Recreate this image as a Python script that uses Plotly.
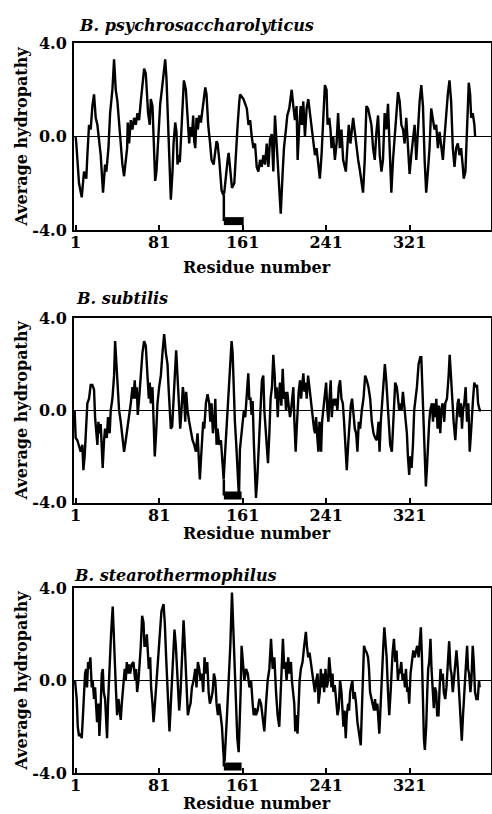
import plotly.graph_objects as go

# ---------------- data ----------------
titles = ["B. psychrosaccharolyticus", "B. subtilis", "B. stearothermophilus"]
x_tickvals = [1, 81, 161, 241, 321]
x_ticktext = ["1", "81", "161", "241", "321"]
y_tickvals = [-4, 0, 4]
y_ticktext = ["-4.0", "0.0", "4.0"]

psy_res = [1, 1.6, 4.2, 6.8, 9.0, 11.2, 12.2, 13.8, 15.4, 17.0, 18.6, 20.2, 21.8, 23.4, 25.0, 27.2, 29.2, 30.4,
           32.4, 34.0, 36.2, 37.8, 39.4, 41.0, 42.6, 44.5, 45.8, 47.4, 49.0, 50.3, 50.9, 52.2, 53.8, 55.4, 57.0,
           58.6, 60.2, 61.8, 63.4, 65.0, 66.6, 68.2, 70.4, 72.0, 73.0, 74.6, 75.6, 76.5, 77.2, 78.4, 79.4, 80.4,
           82.0, 83.6, 85.8, 86.8, 88.0, 89.3, 90.6, 92.2, 93.8, 94.8, 96.4, 97.6, 98.6, 99.6, 100.8, 102.1,
           103.4, 104.7, 106.6, 108.2, 108.8, 109.8, 110.8, 112.4, 113.6, 114.6, 115.6, 116.8, 118.1, 119.4,
           121.0, 123.2, 125.2, 126.4, 128.0, 129.6, 131.2, 133.2, 134.8, 136.0, 137.0, 138.6, 140.8, 142.4,
           143.4, 145.0, 146.6, 147.6, 148.8, 150.8, 153.0, 154.6, 156.2, 157.8,
           158.6, 161.8, 165.0, 166.6, 168.2, 169.7, 171.3, 172.9, 174.5, 176.1, 177.7, 179.3, 180.9, 182.5,
           184.1, 185.7, 187.3, 188.9, 190.4, 192.0, 193.6, 195.2, 197.5, 199.4, 200.6, 202.5, 203.8, 205.7,
           208.0, 209.6, 211.1, 212.7, 213.7, 215.3, 216.6, 217.8, 219.1, 220.7, 222.3, 223.9, 225.5, 227.1,
           228.7, 230.3, 231.8, 233.4, 235.0, 236.6, 238.2, 239.8, 241.4, 242.4, 244.0, 245.2, 246.2, 247.8,
           249.4, 251.0, 252.5, 254.1, 255.7, 257.3, 259.9, 261.1, 262.7, 264.3, 265.6, 266.9, 268.5, 270.1,
           271.7, 273.2, 274.8, 276.4, 278.0, 279.6, 281.2, 282.8, 284.4, 286.0, 287.6, 289.2, 290.8, 292.4,
           294.0, 295.5, 297.1, 298.7, 300.3, 301.9, 303.5, 305.1, 306.7, 308.3, 309.9, 311.5, 313.1, 314.7,
           316.2, 317.8, 319.4, 321.0, 322.6, 324.2, 325.8, 327.4, 329.0, 330.6, 332.2, 333.8, 335.4, 336.9,
           338.5, 340.1, 341.7, 343.3, 344.9, 346.5, 348.1, 349.7, 351.3, 352.9, 354.5, 356.1, 357.6, 359.2,
           360.8, 362.4, 364.0, 365.6, 367.2, 368.8, 370.4, 372.0, 372.9, 374.5, 375.8, 376.8, 377.7, 379.0,
           380.0, 381.5, 383.1, 383.8]
psy_val = [0.0, -0.3, -2.0, -2.6, -1.5, -1.8, -0.8, 0.5, 0.3, 1.3, 1.8, 0.8, 0.5, -0.3, -0.8, -2.4, -1.2, -1.5,
           -0.5, 1.0, 2.0, 3.3, 2.0, 1.5, 0.5, -0.5, -1.2, -1.7, -1.0, -0.5, 0.6, -0.3, 0.7, 0.3, 0.8,
           0.5, 1.0, 0.7, 1.5, 2.3, 2.9, 2.7, 1.0, 0.5, 1.6, 1.3, 0.3, -1.0, -1.9, -1.5, -0.5, 0.5,
           1.4, 2.0, 2.8, 3.3, 2.5, 1.0, -0.5, -2.7, -1.5, -0.3, 0.6, 0.2, -1.2, -0.8, -1.1, 0.3,
           1.2, 2.4, 2.0, 1.0, 0.5, -0.3, 0.4, 0.0, 0.9, -0.2, -0.5, 0.8, 0.3, 0.9,
           0.6, 1.3, 2.1, 1.8, 0.5, -0.2, -1.0, -1.2, -0.7, -0.2, -0.3, -1.0, -2.3, -2.5,
           -2.4, -1.5, -1.0, -0.7, -1.2, -2.2, -2.0, -0.5, 0.5, 1.5,
           1.8, 1.6, 1.2, 0.5, 0.7, 0.0, -0.5, -0.3, -1.3, -1.5, -1.0, -1.3, -0.8, -1.2,
           -0.3, -1.3, -0.1, 0.1, -1.5, 0.9, -0.5, -1.5, -3.3, -1.5, -0.5, 0.3, 0.9, 1.2,
           2.0, 1.3, 0.7, 1.3, -1.0, 0.5, 1.3, 0.5, 1.5, 0.0, 1.2, 1.6, 1.0, 0.5,
           -0.3, -0.8, -0.5, -1.3, -1.8, -0.8, 0.8, 2.2, 2.0, 0.5, 0.8, 0.3, -0.5, 0.0,
           -1.0, -0.3, 1.0, -0.5, 0.3, -1.0, -1.5, -0.5, 0.5, -0.3, 0.3, 0.8, 0.2, -0.5,
           -1.0, -1.4, -1.9, -2.4, -1.0, 1.3, 1.2, 0.8, 0.5, -0.5, -1.0, 0.2, 0.9, -0.8,
           -1.5, -1.0, 1.0, 0.3, 1.4, -0.5, -2.4, -1.0, 0.0, 1.0, 1.9, 1.5, 0.5, 0.3,
           -0.3, 0.8, -0.3, -1.6, -0.8, 0.0, 0.5, -1.0, 0.5, 1.5, 2.2, 1.3, -1.0, -2.4,
           -1.5, -0.5, 1.2, 0.7, 0.3, 0.5, -0.5, 0.2, -0.5, -1.0, 0.0, 1.2, 1.8, 2.4,
           1.5, -0.5, -1.3, -0.5, -0.3, -0.8, -0.5, -1.3, -1.8, -1.5, 0.3, 1.2, 2.3, 1.8,
           0.8, 1.0, 0.5, 0.0]

sub_res = [0, 1.0, 2.6, 4.2, 5.8, 7.4, 8.4, 9.6, 10.9, 12.2, 13.8, 15.4, 17.0, 18.6, 19.6, 20.5, 21.8, 22.8,
           24.0, 25.0, 26.0, 26.9, 28.2, 29.2, 30.8, 32.0, 33.6, 34.6, 36.2, 37.8, 38.8, 40.0, 41.0, 42.6,
           44.2, 45.8, 47.4, 49.0, 50.6, 52.2, 53.8, 55.4, 56.4, 57.6, 58.6, 59.6, 60.5, 61.8, 63.4, 65.0,
           66.6, 68.2, 69.8, 71.1, 72.0, 73.0, 74.6, 75.6, 76.8, 78.1, 79.4, 81.0, 82.6, 84.2, 85.8, 87.4,
           89.0, 90.0, 91.2, 92.2, 93.5, 94.8, 96.0, 97.3, 98.6, 100.2, 101.2, 102.4, 103.7, 105.0, 106.0,
           106.9, 108.2, 109.8, 111.4, 113.0, 114.6, 116.2, 117.8, 118.8, 120.0, 121.0, 122.0, 123.2, 124.2,
           125.8, 127.4, 129.0, 130.0, 131.2, 132.5, 133.8, 134.8, 136.0, 137.0, 138.6, 140.2, 141.8, 142.8,
           144.0, 145.3, 146.6, 147.9, 149.2, 150.4, 151.4, 152.4, 153.6, 154.9, 156.2, 157.5,
           158.4, 161.0, 162.2, 163.5, 164.8, 166.4, 167.4, 168.6, 169.6, 170.6, 171.8, 172.8, 173.8, 175.0,
           176.3, 177.6, 178.6, 179.5, 180.8, 181.8, 182.7, 184.0, 185.3, 186.6, 187.8, 189.1, 190.4, 191.7,
           192.6, 193.6, 194.6, 195.5, 196.8, 198.1, 199.4, 200.6, 201.6, 202.6, 203.8, 205.1, 206.4, 207.4,
           208.3, 209.6, 210.6, 211.8, 212.8, 213.8, 214.7, 216.0, 217.0, 217.9, 219.2, 220.2, 221.4, 222.4,
           223.7, 225.0, 226.2, 227.2, 228.2, 229.4, 230.4, 231.4, 232.6, 233.6, 234.6, 235.2, 236.2, 237.1,
           238.4, 239.7, 241.0, 242.2, 243.2, 244.2, 245.4, 246.4, 247.4, 248.6, 249.6, 250.6, 251.8, 253.1,
           254.4, 255.7, 257.0, 258.2, 259.5, 260.8, 262.1, 263.4, 264.6, 265.9, 267.2, 268.5, 269.8, 271.0,
           272.3, 273.6, 275.2, 276.8, 278.4, 280.0, 281.6, 283.2, 284.8, 286.4, 288.0, 289.6, 291.2, 292.2,
           293.4, 294.7, 296.0, 297.3, 298.6, 299.8, 301.1, 302.4, 304.0, 305.0, 306.2, 307.2, 308.8, 310.1,
           311.0, 312.0, 313.3, 314.6, 315.8, 317.1, 318.4, 319.4, 320.6, 321.6, 322.9, 324.2, 325.4, 326.7,
           328.0, 329.6, 331.2, 332.2, 333.1, 334.4, 335.4, 336.6, 337.6, 338.9, 339.8, 340.8, 342.4, 343.4,
           344.6, 345.6, 346.6, 347.8, 349.1, 350.4, 351.4, 352.6, 354.2, 355.2, 356.8, 358.4, 359.4, 360.6,
           361.6, 363.2, 364.8, 365.8, 367.0, 368.0, 369.0, 370.2, 371.2, 372.2, 373.4, 374.7, 376.0, 377.3,
           378.6, 379.8, 380.8, 381.8, 383.0, 384.3, 385.6, 386.6, 388.2, 389.4]
sub_val = [0.0, -1.2, -1.3, -1.6, -1.8, -1.5, -2.6, -2.0, -1.0, 0.3, 0.5, 1.1, 1.1, 0.9, -0.3, -0.8, -1.5, -0.5,
           -1.0, -0.6, -1.8, -2.5, -1.3, -0.8, -1.2, -0.3, -1.0, 0.0, 0.5, 1.5, 3.0, 2.0, 1.0, 0.0,
           -0.5, -1.2, -1.8, -1.3, -0.8, -0.3, 0.3, 1.0, 0.5, 1.3, 0.5, 1.0, -0.2, 0.5, 1.5, 2.5,
           3.0, 2.8, 1.5, 0.5, 1.2, 0.3, 1.0, -0.5, -2.0, -1.0, 0.3, 1.0, 1.5, 2.5, 3.3, 2.5,
           2.0, 1.0, 0.0, -0.8, -0.7, 0.2, 1.5, 2.6, 1.5, 0.5, -0.8, 0.0, 1.0, 0.5, -0.5,
           0.8, 0.0, -0.5, -1.0, -1.3, -1.5, -1.8, -1.0, -2.0, -3.0, -2.2, -1.5, -0.5, -0.8,
           0.3, 0.7, 0.3, -0.5, 0.3, -1.0, -0.5, 0.5, -1.5, -0.8, -1.5, -1.3, -2.5, -3.0,
           -2.0, -1.0, 0.0, 1.0, 2.0, 3.0, 2.5, 1.0, -0.5, -1.5, -2.5, -3.8,
           -1.7, -0.5, 0.0, -0.3, 0.8, 1.6, 0.5, 0.5, -0.2, 0.4, -1.5, -3.0, -3.8, -3.0,
           -1.5, 0.0, 0.5, 1.3, 1.5, 0.0, -0.5, -1.5, -2.3, -1.0, 0.5, 1.0, 2.4, 1.5,
           0.5, 1.0, -0.3, 0.5, 1.2, 0.2, 1.8, 0.5, 0.8, 0.0, 0.8, 0.2, -0.3, 0.0,
           0.5, 1.0, -0.5, -1.8, -0.8, 0.3, 0.8, 1.3, 0.5, 1.0, 1.6, 0.8, 1.2, 0.5,
           1.5, 1.0, 0.5, 0.0, -0.5, -0.8, -1.0, -0.3, -1.2, -1.8, -0.5, -1.0, -1.8, -0.5,
           0.0, 0.5, 1.2, 0.0, -0.5, 0.5, 1.3, -0.3, 0.3, 0.5, 0.2, 0.5, 0.0, 1.0,
           1.3, 0.5, 0.3, -0.5, -1.5, -2.6, -1.5, -0.5, 0.2, 0.5, -0.3, -0.8, -1.0, -1.8,
           -0.5, -0.8, 0.0, 0.5, 1.5, 1.3, 1.0, 0.5, -0.5, -1.0, -1.2, -1.3, -0.5, -1.8,
           -0.5, 0.3, 0.8, 2.0, 1.3, 0.5, -0.5, -1.5, -1.8, -1.0, 0.0, 1.2, 1.0, 0.5,
           0.0, 0.3, 0.0, 0.8, 0.3, -0.3, -1.0, -2.0, -2.8, -2.0, -2.5, -1.5, 0.0, 0.5,
           1.0, 2.0, 2.3, 2.3, 1.0, -1.0, -2.5, -3.3, -2.5, -1.0, -0.5, 0.0, 0.3, -0.5,
           0.3, -0.3, 0.5, -0.8, 0.2, -1.0, 0.0, 0.3, -0.5, 0.3, 0.5, 1.5, 2.4, 1.5,
           0.5, -0.5, -1.3, -0.5, 0.3, 0.5, -0.3, 0.3, -0.8, 0.0, 0.3, 1.0, -0.5, 0.3,
           -1.8, -1.0, 0.0, 0.5, 1.2, 1.0, 1.1, 0.3, 0.0, 0.0]

ste_res = [0.4, 2.0, 3.0, 4.2, 5.8, 6.8, 8.0, 9.0, 10.0, 11.0, 11.9, 12.9, 13.8, 15.1, 16.4, 17.3, 18.6, 19.6,
           20.5, 21.5, 22.8, 23.7, 24.7, 26.0, 27.0, 27.9, 29.2, 30.1, 31.1, 32.0, 33.0, 34.0, 34.9, 36.5,
           37.8, 38.8, 39.7, 40.7, 42.0, 42.9, 44.2, 45.2, 46.8, 48.0, 49.0, 50.0, 50.9, 52.2, 53.2, 54.8,
           56.4, 58.0, 58.9, 59.9, 61.2, 62.1, 63.4, 64.7, 66.0, 66.9, 68.2, 69.2, 70.1, 71.1, 72.4, 73.3,
           74.6, 75.6, 76.5, 77.8, 79.1, 80.4, 82.0, 83.2, 85.2, 86.4, 87.7, 89.0, 90.0, 90.9, 92.2, 93.2,
           94.4, 95.7, 97.0, 98.0, 99.0, 100.2, 101.5, 102.8, 104.4, 105.3, 106.6, 107.6, 108.5, 109.8,
           111.1, 112.4, 114.0, 115.6, 116.8, 118.1, 119.4, 120.7, 122.0, 123.2, 124.5, 125.8, 127.1,
           128.4, 129.6, 130.9, 132.2, 133.5, 134.8, 136.0, 137.3, 138.6, 139.9, 141.2, 142.4, 143.7,
           146.0, 147.6, 149.2, 150.8, 152.0, 153.3, 154.6, 155.9, 157.2, 158.1, 159.1,
           160.0, 161.1, 162.7, 164.3, 165.9, 167.5, 169.1, 170.6, 171.6, 172.9, 173.8, 175.4, 177.0, 178.6,
           180.2, 181.8, 183.4, 185.0, 186.6, 188.2, 189.8, 191.4, 193.0, 194.5, 196.1, 197.1, 198.4, 199.6,
           200.9, 201.9, 203.1, 204.7, 205.7, 207.3, 208.2, 209.5, 210.5, 211.4, 212.4, 213.6, 214.6, 215.6,
           216.8, 218.4, 220.0, 221.6, 222.6, 223.8, 225.1, 226.4, 227.7, 228.9, 230.2, 231.5, 232.8, 233.7,
           235.0, 235.9, 236.9, 237.9, 239.1, 240.4, 241.7, 242.9, 243.9, 244.9, 246.1, 247.1, 248.0, 249.3,
           250.3, 251.9, 253.1, 254.4, 255.7, 256.6, 257.6, 258.6, 259.8, 260.8, 262.1, 263.0, 264.0, 265.2,
           266.2, 267.2, 268.4, 269.7, 271.0, 272.6, 274.2, 275.1, 276.1, 277.3, 278.6, 279.9, 281.2, 282.1,
           283.1, 284.4, 285.3, 286.9, 287.9, 288.8, 290.1, 291.0, 292.0, 293.3, 294.5, 295.8, 296.8, 298.0,
           299.0, 300.3, 301.5, 302.8, 303.8, 304.7, 306.0, 307.3, 308.5, 309.8, 310.8, 311.7, 313.0, 314.3,
           315.5, 316.5, 317.5, 318.7, 319.7, 320.6, 321.9, 323.2, 324.5, 325.8, 327.0, 328.3, 329.6, 330.5,
           331.8, 332.8, 333.7, 334.7, 335.6, 336.9, 337.9, 338.8, 339.8, 341.0, 342.0, 343.3, 344.2, 345.2,
           346.5, 347.4, 348.7, 349.6, 350.6, 351.6, 352.8, 353.8, 355.1, 356.3, 357.6, 358.9, 360.2, 361.1,
           362.4, 363.3, 364.6, 365.9, 367.2, 368.4, 369.7, 371.0, 372.2, 373.2, 374.5, 376.1, 377.0, 378.0,
           379.3, 380.2, 381.5, 382.5, 383.7, 385.0, 386.3, 387.5, 388.2]
ste_val = [0.0, -0.8, -2.0, -2.4, -2.3, -2.5, -1.5, -0.5, 0.3, 0.5, -0.3, 0.8, 0.5, 1.0, -0.3, 0.0, -0.8, -0.3,
           -1.3, -1.8, -1.0, -2.4, -1.5, 0.3, 0.5, -0.5, -0.8, -1.5, -2.5, -1.0, 0.3, 1.0, 2.0, 3.2,
           2.0, 0.5, -0.5, -1.5, -0.8, -1.2, -1.7, -1.0, 0.0, 0.5, 0.0, 0.8, 0.3, 0.7, 0.3, 0.7,
           0.8, 0.0, 0.5, -0.5, 0.0, 0.5, 1.5, 2.8, 2.5, 1.5, 1.5, 2.0, 1.0, 0.5, 1.0, -0.3,
           -1.0, -1.8, -1.3, -0.5, 0.5, 1.5, 2.5, 3.0, 3.3, 2.5, 1.0, -0.5, -1.5, -2.2, -1.0, 0.0,
           1.0, 2.2, 1.5, 0.5, -0.5, -1.3, -0.5, 1.0, 2.6, 1.8, 0.5, -0.5, -1.5, -1.2,
           -1.0, -0.3, 0.0, 0.5, -0.3, 0.8, 0.5, 0.0, 0.3, -0.5, 1.0, 0.3, 0.8,
           -0.5, -1.0, -0.8, -0.5, 0.3, 0.0, -1.0, -1.5, -1.0, -1.5, -2.0, -3.0, -3.5,
           -1.5, 0.0, 1.5, 3.8, 2.5, 0.5, -1.0, -2.5, -3.1, -2.0, -0.5,
           1.5, 0.8, 0.0, 0.5, 0.3, -0.3, 0.0, -1.0, -1.5, -1.2, -1.5, -1.3, -0.8, -1.0,
           -1.5, -2.2, -1.0, 0.0, 0.5, 1.8, 0.5, 1.0, -0.5, -1.5, -2.0, -1.0, 0.0, 1.8,
           0.5, 0.8, 0.0, 1.0, 0.3, 0.8, 0.0, -0.5, -1.0, -2.2, -1.5, -2.3, -0.8, 0.0,
           0.5, 0.8, 1.5, 2.1, 1.5, 1.0, 1.2, 0.8, 0.3, 0.0, -0.5, 0.0, 0.3, -1.0,
           -0.5, 0.5, -0.3, 0.3, -0.5, 0.5, -0.3, 0.0, 1.0, 0.5, -0.3, 0.3, -0.5, -0.2,
           -0.8, -1.5, -1.2, 0.0, -0.5, -1.5, -2.0, -1.3, -2.5, -1.5, -1.0, -1.3, -0.5, -0.2,
           0.0, -0.8, -0.5, -1.0, -1.8, -2.3, -2.8, -1.5, -0.3, 1.5, 1.3, 1.2, 1.0, 0.5,
           -0.5, -0.8, -1.0, -1.3, -0.8, -1.3, -1.0, -1.5, -2.3, -1.0, 0.5, 1.5, 2.3, 1.5,
           1.0, -0.5, -1.5, -0.5, 0.5, 1.2, 1.8, 0.8, 1.3, 0.0, 0.5, 0.3, 0.8, 0.0,
           0.3, -0.3, 0.5, -0.5, -0.3, -1.0, 0.3, 0.8, 1.3, 1.0, 1.3, 1.5, 1.0, 1.5,
           2.3, 1.0, -1.0, -2.5, -3.0, -2.0, -0.5, 0.5, 0.8, 1.8, 0.5, -0.5, -1.2, -0.3,
           -0.5, -1.5, -1.5, -0.5, 0.5, 0.0, 0.3, -0.5, -0.8, -0.3, 0.5, 1.7, 0.5, 0.3,
           -0.5, 0.0, 0.5, 1.3, 0.5, -0.5, -1.5, -2.6, -1.5, -0.5, 0.3, 1.5, 0.5, 0.3,
           -0.5, 0.0, 1.5, 0.8, -0.5, -0.8, -0.8, 0.0, -0.3]

series_res = [psy_res, sub_res, ste_res]
series_val = [psy_val, sub_val, ste_val]

# marked region (thick bar) per panel: start residue, end residue, level, top of connector
bar_start = [143, 143, 143]
bar_end = [162, 160, 160]
bar_level = [-3.62, -3.7, -3.72]
bar_top = [-2.5, -3.0, -3.0]

# ---------------- layout ----------------
W, H = 492, 814
FONT = "DejaVu Serif"
x_left, x_right = 74.0, 491.0
panel_top = [43, 318, 588]
panel_bot = [230, 502.5, 773]
xtitle_y = [268, 533, 803]
title_y = [26, 298, 575]
title_x = [77, 74, 72]

fig = go.Figure()
for i in range(3):
    xa = "x" if i == 0 else f"x{i+1}"
    ya = "y" if i == 0 else f"y{i+1}"
    fig.add_trace(go.Scatter(x=series_res[i], y=series_val[i], mode="lines",
                             line=dict(color="black", width=2.4), xaxis=xa, yaxis=ya,
                             showlegend=False, hoverinfo="skip"))
    fig.add_trace(go.Scatter(x=[bar_start[i], bar_start[i]], y=[bar_top[i], bar_level[i]], mode="lines",
                             line=dict(color="black", width=2.5), xaxis=xa, yaxis=ya,
                             showlegend=False, hoverinfo="skip"))
    fig.add_trace(go.Scatter(x=[bar_start[i], bar_end[i]], y=[bar_level[i], bar_level[i]], mode="lines",
                             line=dict(color="black", width=8), xaxis=xa, yaxis=ya,
                             showlegend=False, hoverinfo="skip"))

axis_common_x = dict(range=[-0.6, 399], tickvals=x_tickvals, ticktext=x_ticktext,
                     ticks="inside", ticklen=5, tickwidth=1.5, tickcolor="black",
                     showline=True, linecolor="black", linewidth=2, mirror=True,
                     showgrid=False, zeroline=False, automargin=False, ticklabelstandoff=-3,
                     tickfont=dict(family=FONT, size=16, color="black", weight="bold"))
axis_common_y = dict(range=[-4, 4], tickvals=y_tickvals, ticktext=y_ticktext,
                     ticks="", showline=True, linecolor="black", linewidth=2, mirror=True,
                     showgrid=False, zeroline=True, zerolinecolor="black", zerolinewidth=1,
                     ticklabelstandoff=2, automargin=False,
                     tickfont=dict(family=FONT, size=16, color="black", weight="bold"))

layout = dict(width=W, height=H, margin=dict(l=0, r=0, t=0, b=0, autoexpand=False),
              paper_bgcolor="white", plot_bgcolor="white", showlegend=False)
annotations = []
for i in range(3):
    sfx = "" if i == 0 else str(i + 1)
    ydom = [1 - panel_bot[i] / H, 1 - panel_top[i] / H]
    layout["xaxis" + sfx] = dict(axis_common_x, domain=[x_left / W, x_right / W], anchor="y" + sfx)
    layout["yaxis" + sfx] = dict(axis_common_y, domain=ydom, anchor="x" + sfx)
    annotations.append(dict(text="<b><i>" + titles[i] + "</i></b>", xref="paper", yref="paper",
                            x=title_x[i] / W, y=1 - title_y[i] / H, xanchor="left", yanchor="middle",
                            showarrow=False, font=dict(family=FONT, size=16, color="black")))
    annotations.append(dict(text="<b>Average hydropathy</b>", xref="paper", yref="paper",
                            x=21 / W, y=(ydom[0] + ydom[1]) / 2, xanchor="center", yanchor="middle",
                            textangle=-90, showarrow=False, font=dict(family=FONT, size=16, color="black")))
    annotations.append(dict(text="<b>Residue number</b>", xref="paper", yref="paper",
                            x=257 / W, y=1 - xtitle_y[i] / H, xanchor="center", yanchor="middle",
                            showarrow=False, font=dict(family=FONT, size=16, color="black")))
layout["annotations"] = annotations
fig.update_layout(**layout)
fig.write_html("out.html", config={"displayModeBar": False},
               post_script="document.body.style.margin='0';document.body.style.overflow='hidden';")
